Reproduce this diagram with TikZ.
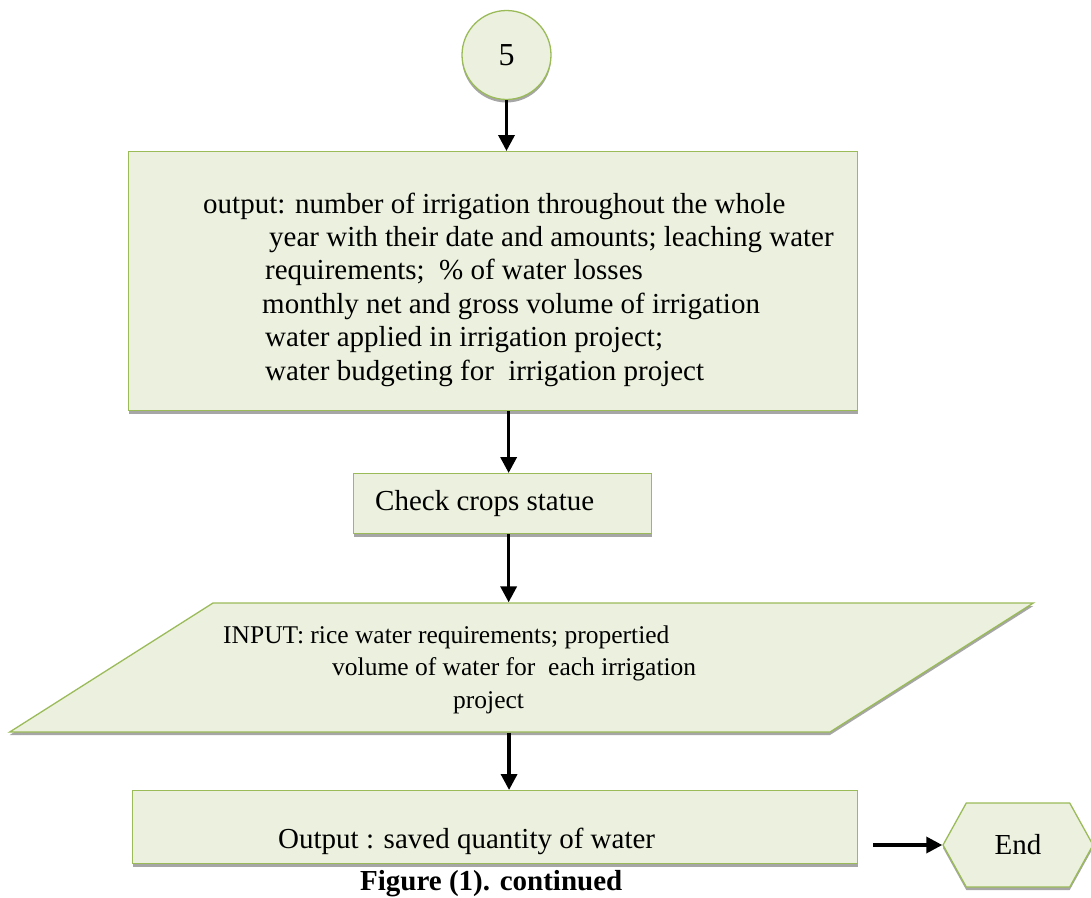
\documentclass[tikz,border=0pt]{standalone}
\usepackage{fontspec}
\setmainfont{Liberation Serif}
\usetikzlibrary{shapes.geometric,shapes.symbols,shadows,arrows.meta}

\definecolor{boxfill}{HTML}{EBF1DE}
\definecolor{boxline}{HTML}{9BBB59}

\tikzset{
  flow/.style={draw=boxline, line width=1.3pt, fill=boxfill, inner sep=0pt,
    general shadow={shadow yshift=-3pt, fill=gray!70}},
  flowbox/.style={flow, rectangle, anchor=north west},
  txt/.style={font=\fontsize{29}{33.4}\selectfont, inner sep=0pt, anchor=base west},
  smalltxt/.style={txt, font=\fontsize{25.5}{32.5}\selectfont},
  arr/.style={-{Triangle[length=16pt,width=16pt]}, line width=3.5pt},
}

\begin{document}
\begin{tikzpicture}[x=1pt,y=-1pt]
\useasboundingbox (0,0) rectangle (1091,897);

% connector circle
\node[flow, circle, minimum size=89pt, font=\fontsize{32}{36}\selectfont] (five) at (506.5,55) {5};

% output box
\node[flowbox, minimum width=729pt, minimum height=259pt] (out) at (128,151) {};
\foreach \dx/\line [count=\i] in {
  203/{output: number of irrigation throughout the whole},
  269/{year with their date and amounts; leaching water},
  265/{requirements;\ \ \% of water losses},
  262/{monthly net and gross volume of irrigation},
  265/{water applied in irrigation project;},
  265/{water budgeting for\ \ irrigation project}}
  \node[txt] (outline\i) at ({\dx},{213+33.4*(\i-1)}) {\line};

% check
\node[flowbox, minimum width=298pt, minimum height=60pt] (check) at (353,473) {};
\node[txt] (checktxt) at (375,510) {Check crops statue};

% input
\node[flow, trapezium, trapezium left angle=32.4, trapezium right angle=147.6,
  text width=617pt, text height=129pt, text depth=0pt]
  (input) at (521.5,667.5) {};
\foreach \dx/\line [count=\i] in {
  223/{INPUT: rice water requirements; propertied},
  332/{volume of water for\ \ each irrigation},
  453/{project}}
  \node[smalltxt] (inline\i) at ({\dx},{643+32.5*(\i-1)}) {\line};

% saved water
\node[flowbox, minimum width=725pt, minimum height=73pt] (saved) at (132,790) {};
\node[txt] (savedtxt) at (278,848) {Output : saved quantity of water};

% end
\node[flow, signal, signal to=west and east, signal pointer angle=122,
  minimum width=150pt, minimum height=84pt, font=\fontsize{29}{33}\selectfont]
  (endnode) at (1018,845) {End};

\node[font=\bfseries\fontsize{29}{33}\selectfont, inner sep=0pt, anchor=base west]
  (caption) at (360,890) {Figure (1). continued};

% arrows
\draw[arr] (five.south) -- (five.south |- out.north);
\draw[arr] ([xshift=6pt]check.north |- out.south) -- ([xshift=6pt]check.north);
\draw[arr] ([xshift=6pt]check.south) -- ([xshift=6pt]check.south |- input.north);
\draw[arr] ([xshift=-12.5pt]input.south) -- ([xshift=-12.5pt]input.south |- saved.north);
\draw[arr, shorten <=15pt] (saved.east |- endnode.west) -- (endnode.west);
\end{tikzpicture}
\end{document}
